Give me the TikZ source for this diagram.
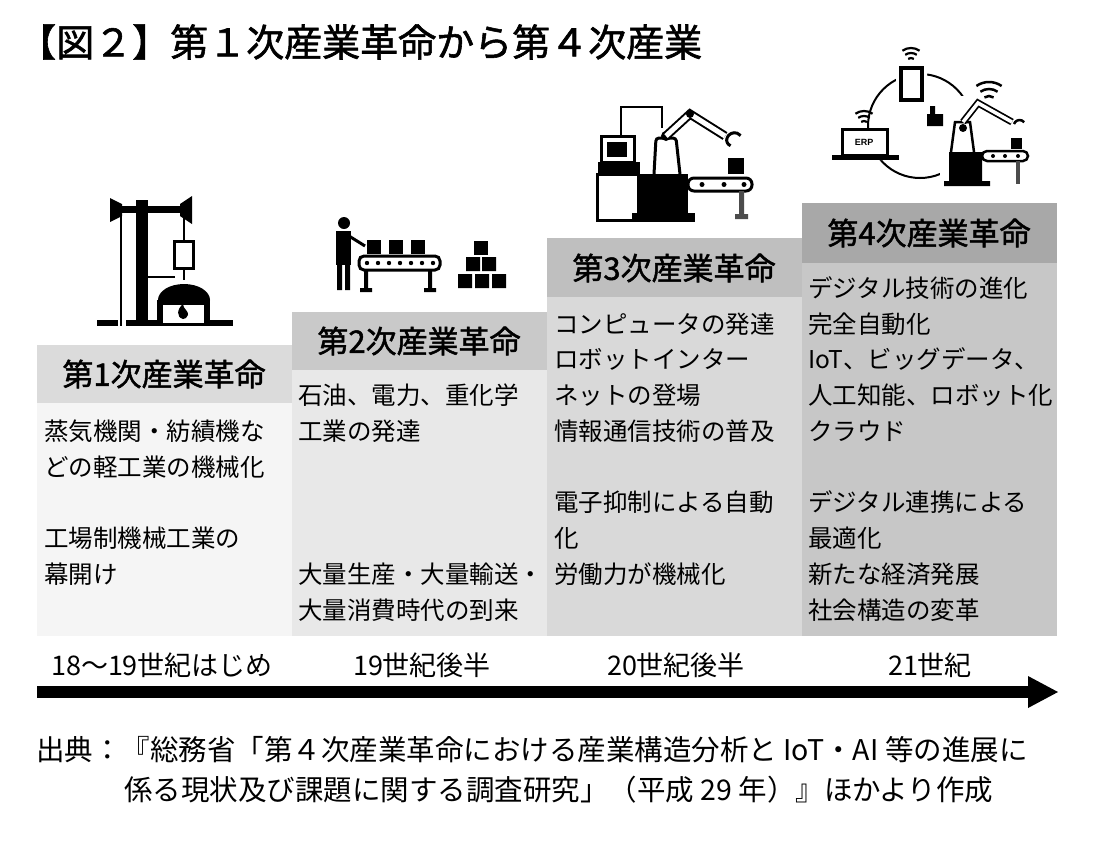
\documentclass[tikz,border=0pt]{standalone}
\usepackage{fontspec}
\setmainfont{Noto Sans CJK JP}
\newfontfamily\jpb{Noto Sans CJK JP}[FakeBold=1.5]
\newfontfamily\lat{Liberation Sans}
\begin{document}
\begin{tikzpicture}[x=1pt,y=-1pt,
 hd/.style={font=\fontsize{31}{31}\selectfont\jpb,anchor=center},
 bt/.style={font=\fontsize{24.5}{24.5}\selectfont,anchor=west,inner sep=0pt},
 era/.style={font=\fontsize{27}{27}\selectfont,anchor=center}]
\useasboundingbox (0,0) rectangle (1095,841);
\fill[white] (0,0) rectangle (1095,841);
% columns
\fill[black!4] (37,403) rectangle (292,636);
\fill[black!14] (37,345) rectangle (292,403);
\fill[black!9] (292,370) rectangle (547,636);
\fill[black!21] (292,312) rectangle (547,370);
\fill[black!15] (547,297) rectangle (802,636);
\fill[black!25] (547,238) rectangle (802,297);
\fill[black!22] (802,263) rectangle (1057,636);
\fill[black!34] (802,203) rectangle (1057,263);
\node[hd] (h1) at (164,374) {第1次産業革命};
\node[hd] (h2) at (419,341) {第2次産業革命};
\node[hd] (h3) at (674,268) {第3次産業革命};
\node[hd] (h4) at (929,233) {第4次産業革命};
% body texts
\node[bt] (a1) at (44,431) {蒸気機関・紡績機な};
\node[bt] (a2) at (44,467) {どの軽工業の機械化};
\node[bt] (a3) at (44,538) {工場制機械工業の};
\node[bt] (a4) at (44,574) {幕開け};
\node[bt] (b1) at (298,395) {石油、電力、重化学};
\node[bt] (b2) at (298,431) {工業の発達};
\node[bt] (b3) at (298,574) {大量生産・大量輸送・};
\node[bt] (b4) at (298,610) {大量消費時代の到来};
\node[bt] (c1) at (554,324) {コンピュータの発達};
\node[bt] (c2) at (554,359) {ロボットインター};
\node[bt] (c3) at (554,395) {ネットの登場};
\node[bt] (c4) at (554,431) {情報通信技術の普及};
\node[bt] (c5) at (554,502) {電子抑制による自動};
\node[bt] (c6) at (554,538) {化};
\node[bt] (c7) at (554,574) {労働力が機械化};
\node[bt] (d1) at (808,288) {デジタル技術の進化};
\node[bt] (d2) at (808,324) {完全自動化};
\node[bt] (d3) at (808,359) {IoT、ビッグデータ、};
\node[bt] (d4) at (808,395) {人工知能、ロボット化};
\node[bt] (d5) at (808,431) {クラウド};
\node[bt] (d6) at (808,502) {デジタル連携による};
\node[bt] (d7) at (808,538) {最適化};
\node[bt] (d8) at (808,574) {新たな経済発展};
\node[bt] (d9) at (808,610) {社会構造の変革};
% eras & arrow
\node[era] (e1) at (162,665) {18〜19世紀はじめ};
\node[era] (e2) at (422,665) {19世紀後半};
\node[era] (e3) at (676,665) {20世紀後半};
\node[era] (e4) at (930,665) {21世紀};
\fill (37,686) rectangle (1030,698);
\fill (1028,676) -- (1058,692) -- (1028,708) -- cycle;
% title
\node[anchor=west,inner sep=0pt,font=\fontsize{38}{38}\selectfont\jpb] (title) at (18,42) {【図２】第１次産業革命から第４次産業};
% source
\node[anchor=west,inner sep=0pt,font=\fontsize{28.5}{28.5}\selectfont] (src1) at (36,750) {出典：『総務省「第４次産業革命における産業構造分析と IoT・AI 等の進展に};
\node[anchor=west,inner sep=0pt,font=\fontsize{28.5}{28.5}\selectfont] (src2) at (124,790) {係る現状及び課題に関する調査研究」（平成 29 年）』ほかより作成};
% icon 1
\fill (97,320) rectangle (118,326);
\fill (126,320) rectangle (233,326);
\draw[line width=2.5] (121,205) -- (121,326);
\fill (136,200) rectangle (148,320);
\fill (113,206) rectangle (185,213);
\fill (110,198) -- (122,204) -- (122,216) -- (110,222) -- cycle;
\fill (192,196) -- (180,204) -- (180,216) -- (192,224) -- cycle;
\draw[line width=2.5] (184,213) -- (184,242);
\draw[line width=3] (174,241) rectangle (193,268);
\draw[line width=2.5] (184,268) -- (184,280) (148,277) -- (175,277);
\fill (158,300) arc (180:360:26 and 16) -- cycle;
\fill (157,300) rectangle (210,323);
\fill[white] (163,305) rectangle (204,323);
\fill (183,319) .. controls (176,317) and (177,309) .. (183,304) .. controls (183,309) and (189,311) .. (188,315) .. controls (187,318) and (185,319) .. (183,319);
% icon 2
\fill (344,223) circle (6);
\fill (336,231) rectangle (351,265);
\fill (337,265) rectangle (342,290) (345,265) rectangle (350,290);
\draw[line width=3] (349,236) -- (365,246);
\foreach \x in {367,389,411} \fill (\x,240) rectangle +(14,14);
\draw[line width=3,rounded corners=5] (359,256) rectangle (440,270);
\foreach \x in {368,379,390,401,412,423,434} \fill (\x-1,263) circle (2.2);
\fill (364,270) rectangle (368,290) (428,270) rectangle (432,290);
\fill (360,288) rectangle (372,292) (424,288) rectangle (436,292);
\fill (474,241) rectangle +(14,14);
\fill (466,257) rectangle +(14,14) (482,257) rectangle +(14,14);
\fill (458,274) rectangle +(14,14) (475,274) rectangle +(14,14) (492,274) rectangle +(14,14);
% icon 3
\draw[line width=2] (621,135) -- (621,107) -- (662,107) -- (662,128);
\draw[line width=3] (597,174) rectangle (638,220);
\draw[line width=3] (601,136) rectangle (634,162);
\fill (607,142) rectangle (627,157);
\fill (598,162) rectangle (640,174);
\fill (640,174) rectangle (688,220);
\fill (632,213) rectangle (695,222);
\draw[line width=3,rounded corners=3] (654,174) -- (656,138) -- (676,138) -- (680,174);
\fill (666,136) circle (5);
\draw[line width=9] (666,136) -- (690,114) -- (725,136);
\draw[line width=5,white] (666,136) -- (690,114) -- (725,136);
\fill (690,114) circle (4);
\draw[line width=3] (727,138) arc (200:320:8) (727,138) arc (200:110:6);
\fill (728,158) rectangle (744,174);
\draw[line width=3,rounded corners=6] (688,178) rectangle (752,191);
\foreach \x in {702,724,744} \fill (\x,184.5) circle (2.5);
\fill[black!70] (739,191) rectangle (744,216) (735,214) rectangle (748,219);
% icon 4
\draw[line width=2] (920,126) circle (52);
\fill[white] (836,128) rectangle (891,160) (896,62) rectangle (927,104) (940,96) rectangle (1032,190) (918,95) rectangle (944,125);
\draw[line width=3] (842,129) rectangle (887,155);
\node[font=\fontsize{9}{9}\selectfont\lat\bfseries] (erp) at (864,142) {ERP};
\fill (832,155) rectangle (899,160);
\draw[line width=4] (901,68) rectangle (922,100);
\fill (930,106) rectangle (935,114) (927,114) rectangle (943,126);
\foreach \r in {5,10,15} {\draw[line width=2.2] (864,126)++(-55:\r) arc (-55:-125:\r);
 \draw[line width=2.2] (911,63)++(-55:\r) arc (-55:-125:\r);}
\foreach \r in {8,15,22} \draw[line width=2.5] (989,104)++(-55:\r) arc (-55:-125:\r);
\fill (949,152) rectangle (982,185) (944,181) rectangle (990,186);
\draw[line width=2.5] (951,152) -- (955,122) -- (970,122) -- (974,152);
\draw[line width=7] (963,122) -- (978,103) -- (1012,122);
\draw[line width=3.5,white] (963,122) -- (978,103) -- (1012,122);
\fill (963,128) circle (4);
\draw[line width=2.5] (1014,124) arc (200:320:6);
\fill (1011,138) rectangle (1022,149);
\draw[line width=2.5,rounded corners=5] (982,151) rectangle (1028,161);
\foreach \x in {993,1005,1018} \fill (\x,156) circle (2);
\fill[black!70] (1016,161) rectangle (1020,184);
\end{tikzpicture}
\end{document}
